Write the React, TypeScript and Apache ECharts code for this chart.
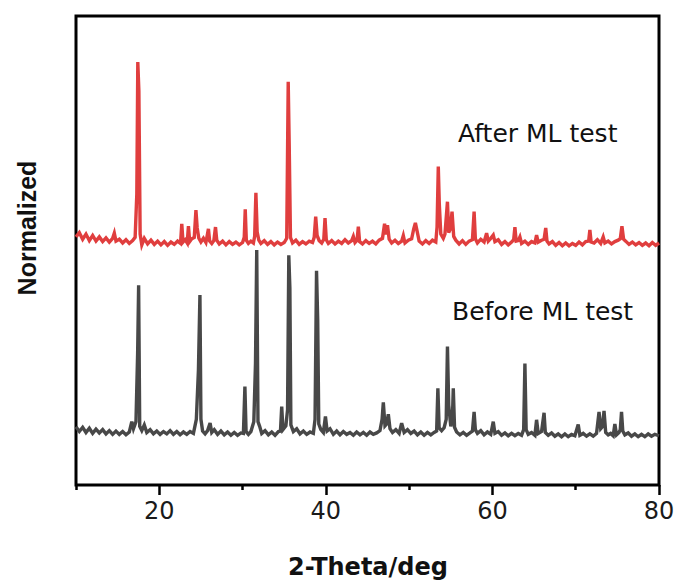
import React, { useEffect, useRef } from "react";
import * as echarts from "echarts";

// X-ray diffraction traces: [2-theta (deg), normalized intensity]
const afterML: [number, number][] = [
  [10.0, 52.9], [10.4, 53.8], [10.8, 52.4], [11.2, 53.5], [11.6, 52.1], [12.0, 53.2], [12.4, 52.0], [12.8, 52.9],
  [13.2, 51.9], [13.6, 52.7], [14.0, 51.8], [14.4, 52.6], [14.6, 53.7], [14.8, 52.0], [15.2, 52.4], [15.6, 51.6],
  [16.0, 52.3], [16.4, 51.5], [16.8, 52.1], [17.1, 52.8], [17.3, 62.0], [17.42, 90.2], [17.55, 84.0], [17.7, 53.5],
  [17.9, 51.2], [18.2, 52.6], [18.6, 51.4], [19.0, 52.2], [19.4, 51.3], [19.8, 52.0], [20.2, 51.2], [20.6, 51.9],
  [21.0, 51.1], [21.4, 51.8], [21.8, 51.3], [22.2, 52.0], [22.55, 51.5], [22.7, 55.7], [22.85, 51.8], [23.1, 52.3],
  [23.35, 51.6], [23.5, 55.2], [23.65, 51.9], [23.9, 52.5], [24.2, 52.8], [24.4, 58.6], [24.55, 54.8], [24.75, 52.6],
  [25.0, 51.8], [25.3, 52.6], [25.6, 51.7], [25.9, 54.6], [26.05, 52.0], [26.3, 51.5], [26.55, 52.1], [26.75, 55.0],
  [26.9, 52.2], [27.2, 51.4], [27.6, 52.0], [28.0, 51.2], [28.4, 51.9], [28.8, 51.3], [29.2, 51.8], [29.6, 51.2],
  [30.0, 51.7], [30.2, 52.8], [30.32, 58.8], [30.45, 52.2], [30.7, 51.5], [31.0, 52.0], [31.3, 51.6], [31.45, 53.0],
  [31.6, 62.3], [31.75, 54.0], [31.95, 52.2], [32.2, 51.5], [32.6, 52.1], [33.0, 51.3], [33.4, 51.9], [33.8, 51.2],
  [34.2, 51.8], [34.6, 51.3], [35.0, 51.7], [35.3, 52.6], [35.48, 86.0], [35.6, 72.5], [35.75, 52.8], [36.0, 51.6],
  [36.4, 52.2], [36.8, 51.3], [37.2, 51.9], [37.6, 51.4], [38.0, 52.0], [38.4, 51.7], [38.6, 52.8], [38.78, 57.2],
  [38.95, 53.2], [39.2, 52.1], [39.5, 51.6], [39.75, 52.4], [39.9, 56.9], [40.05, 52.3], [40.3, 51.5], [40.7, 52.1],
  [41.1, 51.4], [41.5, 52.0], [41.9, 51.5], [42.3, 52.3], [42.7, 51.6], [43.1, 52.1], [43.3, 53.0], [43.5, 51.7],
  [43.75, 52.2], [43.9, 55.1], [44.05, 51.9], [44.4, 51.4], [44.8, 52.1], [45.2, 51.5], [45.6, 52.0], [46.0, 51.4],
  [46.4, 52.2], [46.8, 52.6], [47.05, 55.7], [47.2, 53.4], [47.4, 55.4], [47.6, 52.4], [47.9, 51.6], [48.3, 52.2],
  [48.7, 51.5], [49.1, 52.0], [49.3, 53.2], [49.5, 51.6], [49.9, 52.2], [50.3, 52.5], [50.55, 54.6], [50.75, 55.9],
  [50.95, 54.2], [51.2, 52.0], [51.6, 51.4], [52.0, 52.1], [52.4, 51.5], [52.8, 52.2], [53.2, 51.8], [53.35, 55.0],
  [53.5, 67.9], [53.62, 60.0], [53.8, 53.5], [54.1, 52.6], [54.3, 53.5], [54.6, 60.4], [54.75, 53.8], [54.95, 54.6],
  [55.15, 58.3], [55.35, 53.0], [55.6, 52.2], [56.0, 51.4], [56.4, 52.1], [56.8, 51.3], [57.2, 52.0], [57.6, 52.3],
  [57.8, 58.3], [57.95, 52.5], [58.2, 51.6], [58.6, 52.4], [59.0, 51.8], [59.3, 53.7], [59.5, 52.0], [59.8, 52.6],
  [60.1, 53.3], [60.3, 51.9], [60.7, 52.3], [61.1, 51.3], [61.5, 51.9], [61.9, 51.2], [62.3, 51.8], [62.55, 52.3],
  [62.7, 55.0], [62.85, 52.0], [63.1, 52.1], [63.3, 52.9], [63.5, 51.5], [63.9, 52.0], [64.3, 51.3], [64.7, 51.9],
  [65.1, 51.6], [65.3, 53.3], [65.5, 51.8], [65.9, 52.2], [66.2, 52.4], [66.4, 54.8], [66.55, 52.0], [66.8, 51.4],
  [67.2, 51.9], [67.6, 51.1], [68.0, 51.7], [68.4, 51.0], [68.8, 51.6], [69.2, 51.0], [69.6, 51.5], [70.0, 51.1],
  [70.4, 51.8], [70.8, 51.2], [71.2, 51.9], [71.55, 52.0], [71.7, 54.4], [71.85, 51.8], [72.2, 51.6], [72.6, 52.3],
  [73.0, 51.5], [73.3, 52.9], [73.5, 51.6], [73.9, 52.0], [74.3, 51.4], [74.7, 51.9], [75.1, 52.2], [75.35, 52.5],
  [75.55, 55.2], [75.75, 52.4], [76.0, 52.0], [76.4, 51.3], [76.8, 51.8], [77.2, 51.2], [77.6, 51.7], [78.0, 51.1],
  [78.4, 51.6], [78.8, 51.0], [79.2, 51.7], [79.6, 51.1], [80.0, 51.6],
];

const beforeML: [number, number][] = [
  [10.0, 12.4], [10.4, 11.4], [10.8, 12.3], [11.2, 11.2], [11.6, 12.1], [12.0, 11.0], [12.4, 11.9], [12.8, 11.1],
  [13.2, 11.8], [13.6, 10.9], [14.0, 11.6], [14.4, 10.8], [14.8, 11.5], [15.2, 10.8], [15.6, 11.4], [16.0, 10.7],
  [16.4, 11.3], [16.7, 13.5], [16.9, 12.0], [17.2, 13.5], [17.4, 28.1], [17.52, 42.6], [17.65, 12.5], [17.9, 11.6],
  [18.2, 12.8], [18.5, 11.2], [18.9, 11.8], [19.3, 10.9], [19.7, 11.5], [20.1, 10.8], [20.5, 11.4], [20.9, 10.9],
  [21.3, 11.6], [21.7, 10.8], [22.1, 11.4], [22.5, 10.7], [22.9, 11.3], [23.3, 10.8], [23.7, 11.4], [24.1, 11.0],
  [24.45, 14.0], [24.7, 24.5], [24.88, 40.5], [25.0, 14.0], [25.2, 11.5], [25.5, 10.9], [25.8, 11.6], [26.1, 13.2],
  [26.3, 11.2], [26.6, 11.8], [27.0, 10.8], [27.4, 11.5], [27.8, 10.7], [28.2, 11.3], [28.6, 10.6], [29.0, 11.2],
  [29.4, 10.6], [29.8, 11.1], [30.1, 11.0], [30.28, 21.0], [30.42, 11.4], [30.7, 10.8], [31.0, 11.4], [31.35, 13.5],
  [31.55, 25.9], [31.7, 50.1], [31.85, 13.5], [32.05, 12.5], [32.3, 11.0], [32.7, 11.6], [33.1, 10.7], [33.5, 11.3],
  [33.9, 10.6], [34.3, 11.4], [34.55, 11.5], [34.7, 16.7], [34.85, 11.8], [35.2, 12.6], [35.4, 16.0], [35.55, 49.0],
  [35.68, 42.0], [35.8, 12.8], [36.1, 11.4], [36.5, 12.0], [36.9, 10.9], [37.3, 11.5], [37.7, 10.8], [38.1, 11.3],
  [38.5, 11.0], [38.7, 14.0], [38.88, 45.7], [39.02, 35.2], [39.15, 13.0], [39.4, 11.8], [39.7, 11.2], [39.95, 14.6],
  [40.15, 11.5], [40.5, 12.0], [40.9, 10.8], [41.3, 11.5], [41.7, 10.7], [42.1, 11.4], [42.5, 10.8], [42.9, 11.2],
  [43.3, 10.6], [43.7, 11.3], [44.1, 10.7], [44.5, 11.2], [44.9, 10.6], [45.3, 11.3], [45.7, 10.8], [46.1, 11.1],
  [46.5, 11.6], [46.75, 14.0], [46.9, 17.6], [47.1, 12.6], [47.3, 13.0], [47.5, 15.1], [47.7, 12.0], [48.0, 11.2],
  [48.4, 11.8], [48.8, 11.0], [49.1, 13.2], [49.4, 11.2], [49.8, 11.8], [50.2, 11.0], [50.6, 11.5], [51.0, 10.7],
  [51.4, 11.3], [51.8, 10.6], [52.2, 11.2], [52.6, 10.7], [53.0, 11.2], [53.3, 11.5], [53.45, 20.6], [53.6, 12.2],
  [53.9, 11.6], [54.2, 12.2], [54.45, 14.0], [54.6, 29.5], [54.75, 17.0], [55.0, 12.5], [55.2, 14.5], [55.3, 20.6],
  [55.45, 12.3], [55.7, 11.3], [56.1, 10.7], [56.5, 11.2], [56.9, 10.6], [57.3, 11.1], [57.6, 11.5], [57.8, 15.6],
  [57.95, 11.8], [58.2, 11.0], [58.6, 11.6], [59.0, 10.7], [59.4, 11.3], [59.8, 10.8], [60.1, 13.5], [60.3, 11.0],
  [60.7, 11.4], [61.1, 10.6], [61.5, 11.1], [61.9, 10.5], [62.3, 11.0], [62.7, 10.5], [63.1, 11.0], [63.5, 10.6],
  [63.75, 11.8], [63.9, 25.9], [64.05, 11.8], [64.3, 10.8], [64.7, 11.2], [65.1, 10.6], [65.3, 13.9], [65.5, 11.0],
  [65.9, 11.4], [66.2, 15.4], [66.35, 11.2], [66.7, 10.6], [67.1, 11.1], [67.5, 10.4], [67.9, 10.9], [68.3, 10.3],
  [68.7, 10.9], [69.1, 10.3], [69.5, 10.8], [69.9, 10.5], [70.3, 12.9], [70.5, 10.6], [70.9, 11.0], [71.3, 10.4],
  [71.7, 10.9], [72.1, 10.4], [72.5, 11.0], [72.8, 15.6], [73.0, 12.0], [73.2, 12.4], [73.4, 15.8], [73.6, 11.2],
  [73.9, 10.7], [74.2, 11.0], [74.5, 10.5], [74.7, 13.0], [74.9, 10.7], [75.2, 11.2], [75.35, 11.8], [75.5, 15.6],
  [75.65, 11.5], [75.9, 10.7], [76.3, 11.1], [76.7, 10.4], [77.1, 10.9], [77.5, 10.3], [77.9, 10.8], [78.3, 10.3],
  [78.7, 10.9], [79.1, 10.4], [79.5, 10.8], [80.0, 10.5],
];

const majorTicks = [20, 40, 60, 80];
const minorTicks = [10, 30, 50, 70];
const xTitle = "2-Theta/deg";
const yTitle = "Normalized";
const afterLabel = "After ML test";
const beforeLabel = "Before ML test";

export default function App() {
  const ref = useRef<HTMLDivElement>(null);
  useEffect(() => {
    if (!ref.current) return;
    const chart = echarts.init(ref.current, null, { renderer: "svg" });
    const textFont = "DejaVu Sans";
    chart.setOption({
      animation: false,
      backgroundColor: "#ffffff",
      grid: {
        left: 76,
        right: 21,
        top: 16,
        bottom: 99,
        show: true,
        borderColor: "#000",
        borderWidth: 3,
        backgroundColor: "transparent",
      },
      xAxis: [
        {
          type: "value",
          min: 10,
          max: 80,
          position: "bottom",
          axisLine: { show: false },
          splitLine: { show: false },
          axisTick: {
            show: true,
            inside: false,
            length: 10,
            customValues: majorTicks,
            lineStyle: { color: "#000", width: 2.5 },
          },
          axisLabel: {
            show: true,
            customValues: majorTicks,
            fontFamily: textFont,
            fontSize: 24,
            color: "#1a1a1a",
            margin: 14,
          },
        },
        {
          type: "value",
          min: 10,
          max: 80,
          position: "bottom",
          axisLine: { show: false },
          splitLine: { show: false },
          axisTick: {
            show: true,
            inside: false,
            length: 5,
            customValues: minorTicks,
            lineStyle: { color: "#000", width: 2.5 },
          },
          axisLabel: { show: false },
        },
      ],
      yAxis: {
        type: "value",
        min: 0,
        max: 100,
        axisLine: { show: false },
        axisTick: { show: false },
        axisLabel: { show: false },
        splitLine: { show: false },
      },
      graphic: [
        {
          type: "text",
          x: 368,
          y: 567,
          style: {
            text: xTitle,
            fontFamily: textFont,
            fontWeight: "bold",
            fontSize: 24,
            fill: "#111",
            align: "center",
            verticalAlign: "middle",
          },
        },
        {
          type: "text",
          x: 27,
          y: 228,
          rotation: Math.PI / 2,
          style: {
            text: yTitle,
            fontFamily: "Liberation Sans",
            fontWeight: "bold",
            fontSize: 25,
            fill: "#111",
            align: "center",
            verticalAlign: "middle",
          },
        },
        {
          type: "text",
          x: 458,
          y: 133,
          style: {
            text: afterLabel,
            fontFamily: textFont,
            fontSize: 25,
            fill: "#111",
            align: "left",
            verticalAlign: "middle",
          },
        },
        {
          type: "text",
          x: 452,
          y: 311,
          style: {
            text: beforeLabel,
            fontFamily: textFont,
            fontSize: 25,
            fill: "#111",
            align: "left",
            verticalAlign: "middle",
          },
        },
      ],
      series: [
        {
          name: afterLabel,
          type: "line",
          xAxisIndex: 0,
          data: afterML,
          showSymbol: false,
          symbol: "none",
          lineStyle: { color: "#e03e3e", width: 3.4, join: "miter" },
        },
        {
          name: beforeLabel,
          type: "line",
          xAxisIndex: 0,
          data: beforeML,
          showSymbol: false,
          symbol: "none",
          lineStyle: { color: "#484848", width: 3.4, join: "miter" },
        },
      ],
    });
    return () => chart.dispose();
  }, []);
  return (
    <div
      ref={ref}
      style={{ position: "fixed", left: 0, top: 0, width: 680, height: 584, background: "#fff" }}
    />
  );
}
